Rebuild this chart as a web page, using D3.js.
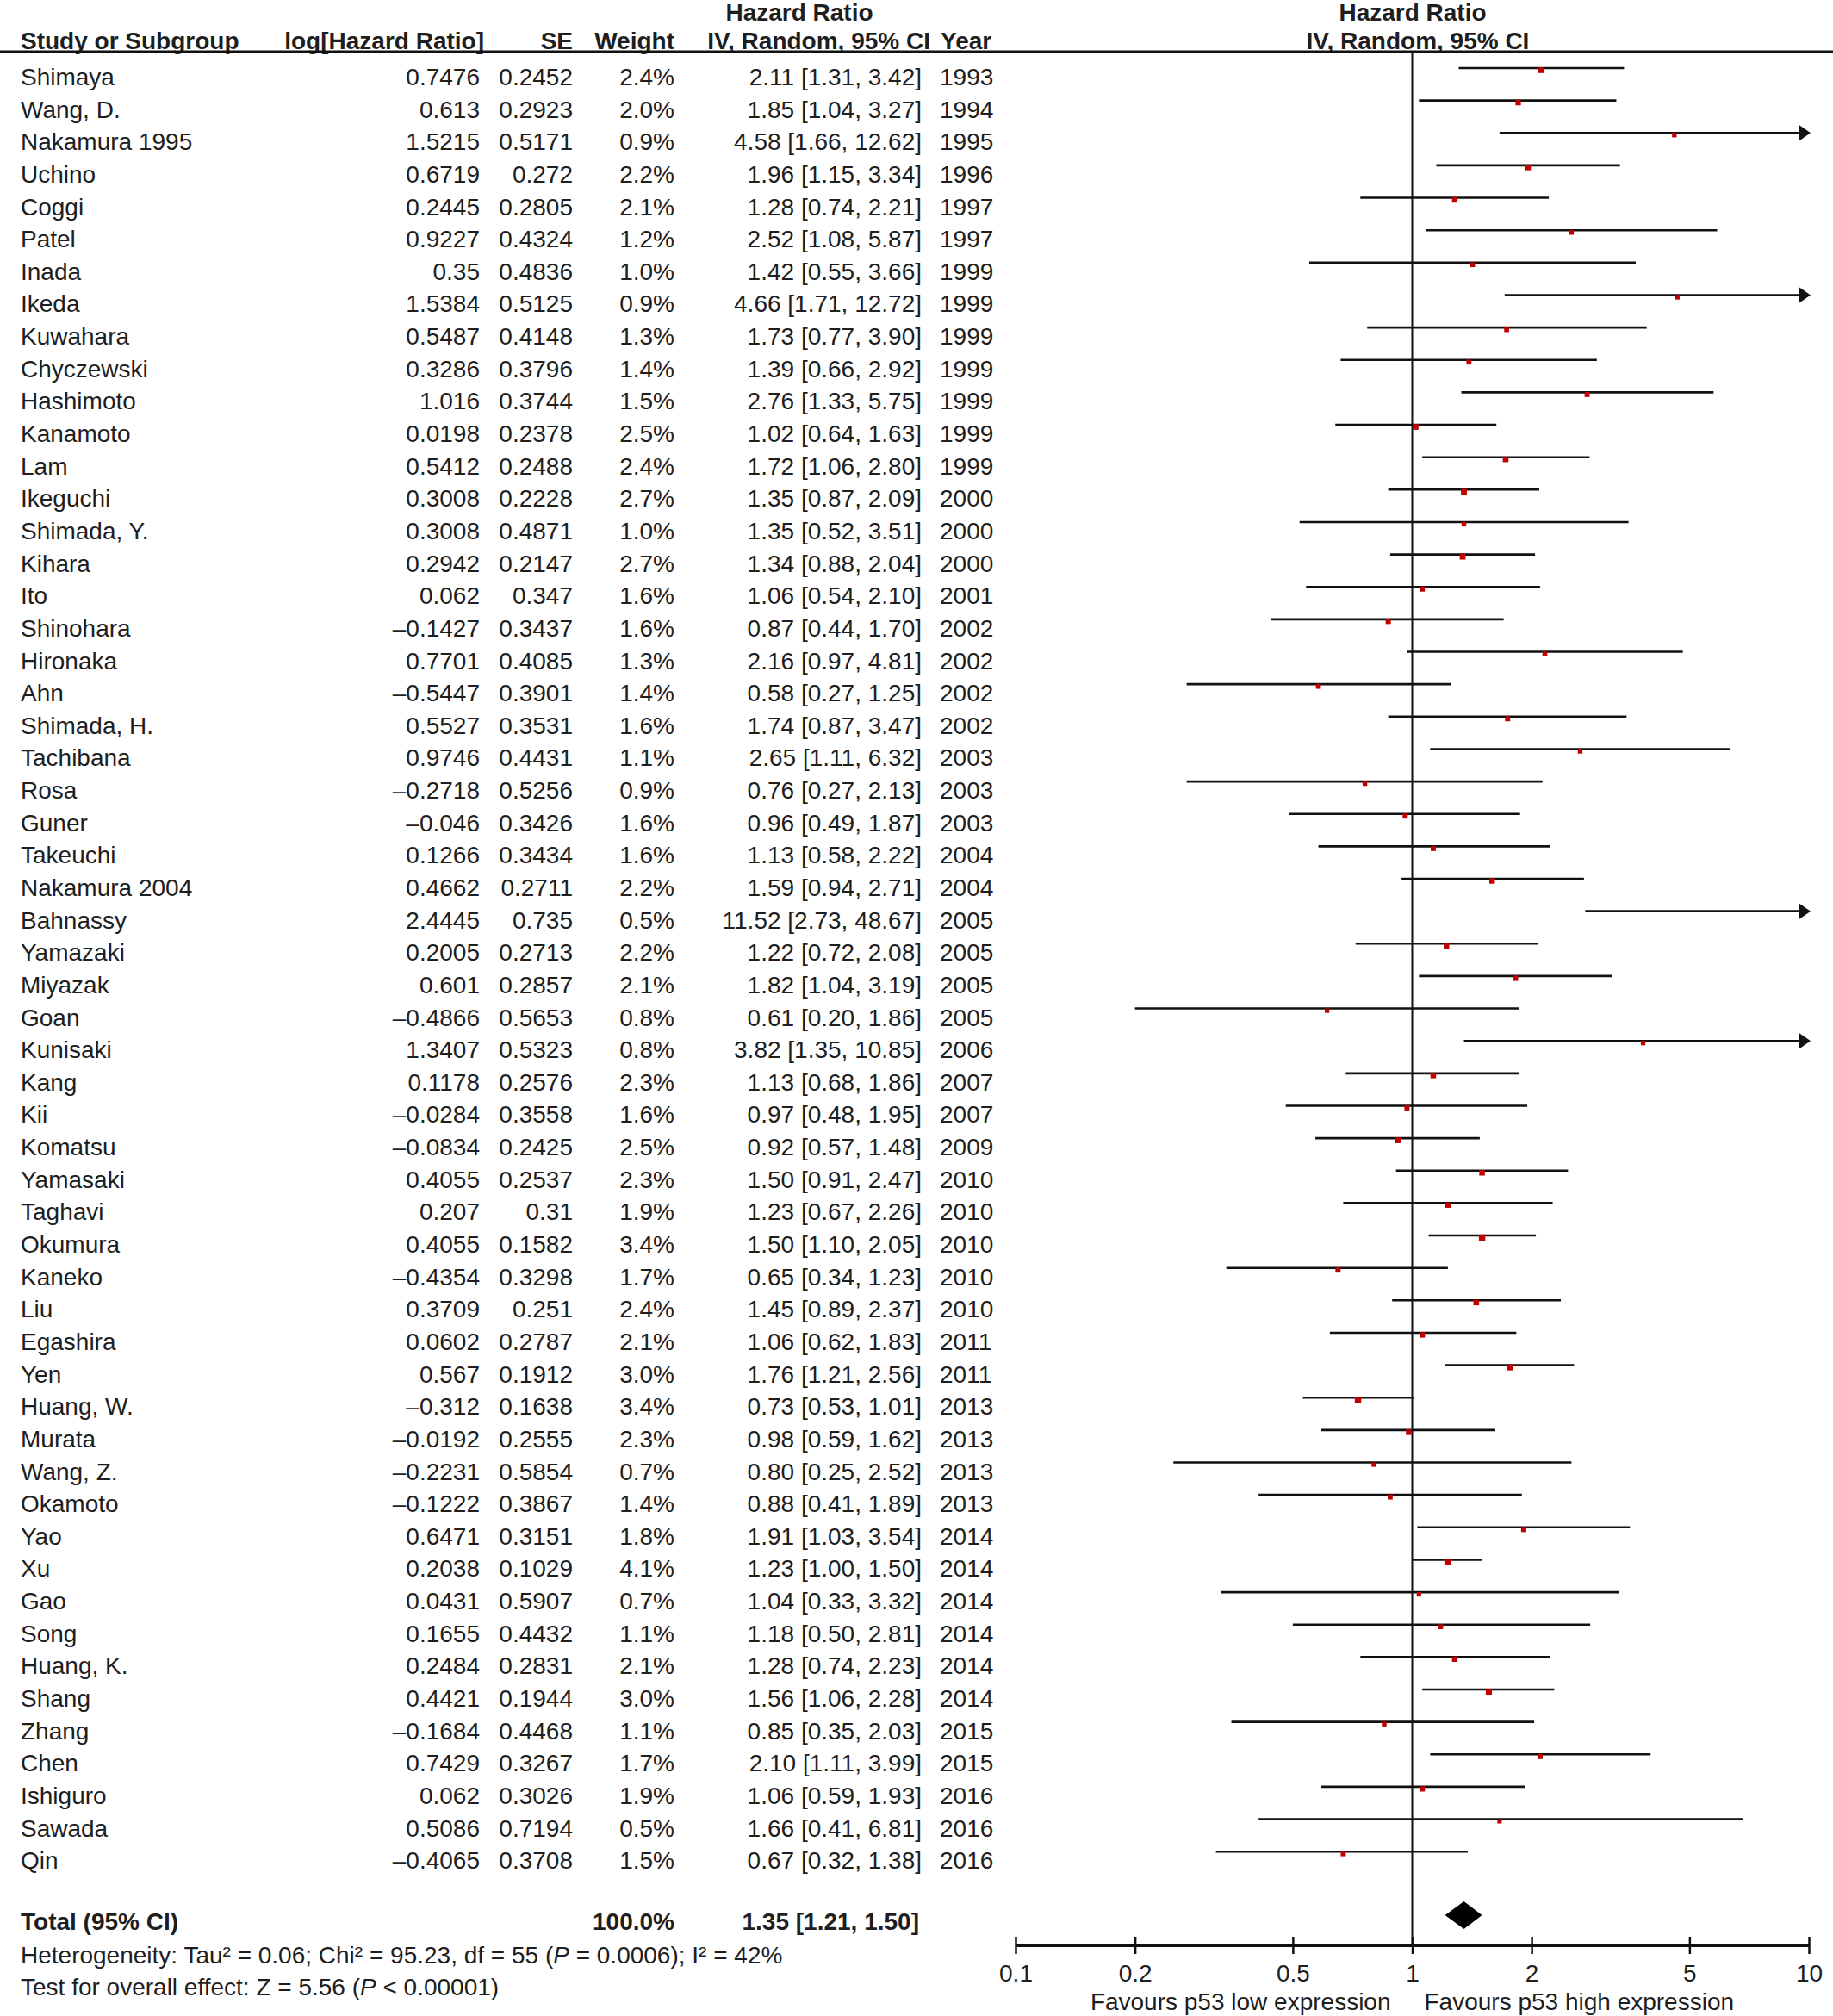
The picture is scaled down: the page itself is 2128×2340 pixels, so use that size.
<!DOCTYPE html>
<html>
<head>
<meta charset="utf-8">
<script src="https://cdn.jsdelivr.net/npm/d3@7"></script>
<style>
  body { margin: 0; background: #fff; }
  svg { display: block; font-family: "Liberation Sans", Arial, sans-serif; }
</style>
</head>
<body>
<svg id="chart"></svg>
<script>
// study rows, top to bottom
const studies = ["Shimaya", "Wang, D.", "Nakamura 1995", "Uchino", "Coggi", "Patel", "Inada", "Ikeda",
  "Kuwahara", "Chyczewski", "Hashimoto", "Kanamoto", "Lam", "Ikeguchi", "Shimada, Y.", "Kihara", "Ito",
  "Shinohara", "Hironaka", "Ahn", "Shimada, H.", "Tachibana", "Rosa", "Guner", "Takeuchi", "Nakamura 2004",
  "Bahnassy", "Yamazaki", "Miyazak", "Goan", "Kunisaki", "Kang", "Kii", "Komatsu", "Yamasaki", "Taghavi",
  "Okumura", "Kaneko", "Liu", "Egashira", "Yen", "Huang, W.", "Murata", "Wang, Z.", "Okamoto", "Yao", "Xu",
  "Gao", "Song", "Huang, K.", "Shang", "Zhang", "Chen", "Ishiguro", "Sawada", "Qin"];
const logHR = [0.7476, 0.613, 1.5215, 0.6719, 0.2445, 0.9227, 0.35, 1.5384, 0.5487, 0.3286, 1.016, 0.0198,
  0.5412, 0.3008, 0.3008, 0.2942, 0.062, -0.1427, 0.7701, -0.5447, 0.5527, 0.9746, -0.2718, -0.046, 0.1266,
  0.4662, 2.4445, 0.2005, 0.601, -0.4866, 1.3407, 0.1178, -0.0284, -0.0834, 0.4055, 0.207, 0.4055, -0.4354,
  0.3709, 0.0602, 0.567, -0.312, -0.0192, -0.2231, -0.1222, 0.6471, 0.2038, 0.0431, 0.1655, 0.2484, 0.4421,
  -0.1684, 0.7429, 0.062, 0.5086, -0.4065];
const se = [0.2452, 0.2923, 0.5171, 0.272, 0.2805, 0.4324, 0.4836, 0.5125, 0.4148, 0.3796, 0.3744, 0.2378,
  0.2488, 0.2228, 0.4871, 0.2147, 0.347, 0.3437, 0.4085, 0.3901, 0.3531, 0.4431, 0.5256, 0.3426, 0.3434,
  0.2711, 0.735, 0.2713, 0.2857, 0.5653, 0.5323, 0.2576, 0.3558, 0.2425, 0.2537, 0.31, 0.1582, 0.3298,
  0.251, 0.2787, 0.1912, 0.1638, 0.2555, 0.5854, 0.3867, 0.3151, 0.1029, 0.5907, 0.4432, 0.2831, 0.1944,
  0.4468, 0.3267, 0.3026, 0.7194, 0.3708];
const weights = [2.4, 2.0, 0.9, 2.2, 2.1, 1.2, 1.0, 0.9, 1.3, 1.4, 1.5, 2.5, 2.4, 2.7, 1.0, 2.7, 1.6, 1.6,
  1.3, 1.4, 1.6, 1.1, 0.9, 1.6, 1.6, 2.2, 0.5, 2.2, 2.1, 0.8, 0.8, 2.3, 1.6, 2.5, 2.3, 1.9, 3.4, 1.7, 2.4,
  2.1, 3.0, 3.4, 2.3, 0.7, 1.4, 1.8, 4.1, 0.7, 1.1, 2.1, 3.0, 1.1, 1.7, 1.9, 0.5, 1.5];
const hr = [2.11, 1.85, 4.58, 1.96, 1.28, 2.52, 1.42, 4.66, 1.73, 1.39, 2.76, 1.02, 1.72, 1.35, 1.35, 1.34,
  1.06, 0.87, 2.16, 0.58, 1.74, 2.65, 0.76, 0.96, 1.13, 1.59, 11.52, 1.22, 1.82, 0.61, 3.82, 1.13, 0.97,
  0.92, 1.50, 1.23, 1.50, 0.65, 1.45, 1.06, 1.76, 0.73, 0.98, 0.80, 0.88, 1.91, 1.23, 1.04, 1.18, 1.28,
  1.56, 0.85, 2.10, 1.06, 1.66, 0.67];
const ciLow = [1.31, 1.04, 1.66, 1.15, 0.74, 1.08, 0.55, 1.71, 0.77, 0.66, 1.33, 0.64, 1.06, 0.87, 0.52,
  0.88, 0.54, 0.44, 0.97, 0.27, 0.87, 1.11, 0.27, 0.49, 0.58, 0.94, 2.73, 0.72, 1.04, 0.20, 1.35, 0.68,
  0.48, 0.57, 0.91, 0.67, 1.10, 0.34, 0.89, 0.62, 1.21, 0.53, 0.59, 0.25, 0.41, 1.03, 1.00, 0.33, 0.50,
  0.74, 1.06, 0.35, 1.11, 0.59, 0.41, 0.32];
const ciHigh = [3.42, 3.27, 12.62, 3.34, 2.21, 5.87, 3.66, 12.72, 3.90, 2.92, 5.75, 1.63, 2.80, 2.09, 3.51,
  2.04, 2.10, 1.70, 4.81, 1.25, 3.47, 6.32, 2.13, 1.87, 2.22, 2.71, 48.67, 2.08, 3.19, 1.86, 10.85, 1.86,
  1.95, 1.48, 2.47, 2.26, 2.05, 1.23, 2.37, 1.83, 2.56, 1.01, 1.62, 2.52, 1.89, 3.54, 1.50, 3.32, 2.81,
  2.23, 2.28, 2.03, 3.99, 1.93, 6.81, 1.38];
const years = [1993, 1994, 1995, 1996, 1997, 1997, 1999, 1999, 1999, 1999, 1999, 1999, 1999, 2000, 2000,
  2000, 2001, 2002, 2002, 2002, 2002, 2003, 2003, 2003, 2004, 2004, 2005, 2005, 2005, 2005, 2006, 2007,
  2007, 2009, 2010, 2010, 2010, 2010, 2010, 2011, 2011, 2013, 2013, 2013, 2013, 2014, 2014, 2014, 2014,
  2014, 2014, 2015, 2015, 2016, 2016, 2016];

// pooled estimate
const total = { weight: 100.0, hr: 1.35, lo: 1.21, hi: 1.50 };
const axisTicks = [0.1, 0.2, 0.5, 1, 2, 5, 10];
const favourLabels = ["Favours p53 low expression", "Favours p53 high expression"];

const W = 2128, H = 2340;
const FS = 28;
const ink = "#1e1e1e";

const svg = d3.select("#chart").attr("width", W).attr("height", H);

const x = d3.scaleLog().domain([0.1, 10]).range([1179, 2100]);
const yText = d3.scaleLinear().domain([0, studies.length - 1]).range([99, 99 + 37.64 * (studies.length - 1)]);
const yLine = i => yText(i) - 20;
const sq = d3.scaleLinear().domain([0.5, 4.1]).range([5, 8]);

const col = { name: 24, log: 557, se: 665, w: 783, ci: 1070, year: 1091 };
const f2 = d3.format(".2f");
const fLog = v => (v < 0 ? "\u2013" + Math.abs(v) : "" + v);

function txt(g, xPos, y, s, anchor, bold) {
  return g.append("text").attr("x", xPos).attr("y", y)
    .attr("text-anchor", anchor || "start")
    .attr("font-size", FS).attr("fill", ink)
    .attr("font-weight", bold ? "bold" : null)
    .text(s);
}

// headers
const hd = svg.append("g");
txt(hd, 928, 24, "Hazard Ratio", "middle", true);
txt(hd, 1640, 24, "Hazard Ratio", "middle", true);
txt(hd, col.name, 57, "Study or Subgroup", "start", true);
txt(hd, 562, 57, "log[Hazard Ratio]", "end", true);
txt(hd, col.se, 57, "SE", "end", true);
txt(hd, col.w, 57, "Weight", "end", true);
txt(hd, 1080, 57, "IV, Random, 95% CI", "end", true);
txt(hd, 1092, 57, "Year", "start", true);
txt(hd, 1646, 57, "IV, Random, 95% CI", "middle", true);
hd.append("line").attr("x1", 0).attr("x2", W).attr("y1", 60).attr("y2", 60)
  .attr("stroke", "#111").attr("stroke-width", 3);

// table rows
const tb = svg.append("g");
studies.forEach((s, i) => {
  const y = yText(i);
  txt(tb, col.name, y, s);
  txt(tb, col.log, y, fLog(logHR[i]), "end");
  txt(tb, col.se, y, se[i], "end");
  txt(tb, col.w, y, weights[i].toFixed(1) + "%", "end");
  txt(tb, col.ci, y, `${f2(hr[i])} [${f2(ciLow[i])}, ${f2(ciHigh[i])}]`, "end");
  txt(tb, col.year, y, years[i]);
});

// total + footnotes
const yTotal = 2240;
txt(tb, col.name, yTotal, "Total (95% CI)", "start", true);
txt(tb, col.w, yTotal, total.weight.toFixed(1) + "%", "end", true);
txt(tb, 1067, yTotal, `${f2(total.hr)} [${f2(total.lo)}, ${f2(total.hi)}]`, "end", true);

const het = txt(tb, col.name, 2279, "");
het.append("tspan").text("Heterogeneity: Tau\u00b2 = 0.06; Chi\u00b2 = 95.23, df = 55 (");
het.append("tspan").attr("font-style", "italic").text("P");
het.append("tspan").text(" = 0.0006); I\u00b2 = 42%");
const zt = txt(tb, col.name, 2316, "");
zt.append("tspan").text("Test for overall effect: Z = 5.56 (");
zt.append("tspan").attr("font-style", "italic").text("P");
zt.append("tspan").text(" < 0.00001)");

// forest plot
const yAxis = 2258;
const pl = svg.append("g");
pl.append("line").attr("x1", x(1)).attr("x2", x(1)).attr("y1", 60).attr("y2", yAxis)
  .attr("stroke", "#111").attr("stroke-width", 2);

const [dmin, dmax] = x.domain();
studies.forEach((s, i) => {
  const y = yLine(i);
  const lo = Math.max(ciLow[i], dmin), hi = Math.min(ciHigh[i], dmax);
  pl.append("line").attr("x1", x(lo)).attr("x2", x(hi)).attr("y1", y).attr("y2", y)
    .attr("stroke", "#111").attr("stroke-width", 2.6);
  if (ciHigh[i] > dmax) {
    const xe = x(dmax);
    pl.append("path").attr("d", `M${xe - 11},${y - 9}L${xe + 2},${y}L${xe - 11},${y + 9}Z`).attr("fill", "#111");
  }
  if (ciLow[i] < dmin) {
    const xs = x(dmin);
    pl.append("path").attr("d", `M${xs + 11},${y - 9}L${xs - 2},${y}L${xs + 11},${y + 9}Z`).attr("fill", "#111");
  }
  if (hr[i] >= dmin && hr[i] <= dmax) {
    const s2 = sq(weights[i]);
    pl.append("rect").attr("x", x(hr[i]) - s2 / 2).attr("y", y + 2.5 - s2 / 2)
      .attr("width", s2).attr("height", s2).attr("fill", "#c00000");
  }
});

// pooled diamond
const yd = 2223;
pl.append("path")
  .attr("d", `M${x(total.lo)},${yd}L${x(total.hr)},${yd - 16}L${x(total.hi)},${yd}L${x(total.hr)},${yd + 16}Z`)
  .attr("fill", "#000");

// axis
const ax = svg.append("g").attr("transform", `translate(0,${yAxis})`)
  .call(d3.axisBottom(x).tickValues(axisTicks).tickFormat(d => d)
    .tickSizeInner(9).tickSizeOuter(0).tickPadding(13));
ax.attr("font-family", null).attr("font-size", null);
ax.select(".domain").attr("stroke", "#111").attr("stroke-width", 3);
ax.selectAll(".tick line").attr("y1", -10).attr("y2", 10).attr("stroke", "#111").attr("stroke-width", 2.5);
ax.selectAll(".tick text").attr("font-size", FS).attr("fill", ink);

txt(pl, x(1) - 25, 2333, favourLabels[0], "end");
txt(pl, x(1) + 14, 2333, favourLabels[1], "start");
</script>
</body>
</html>
